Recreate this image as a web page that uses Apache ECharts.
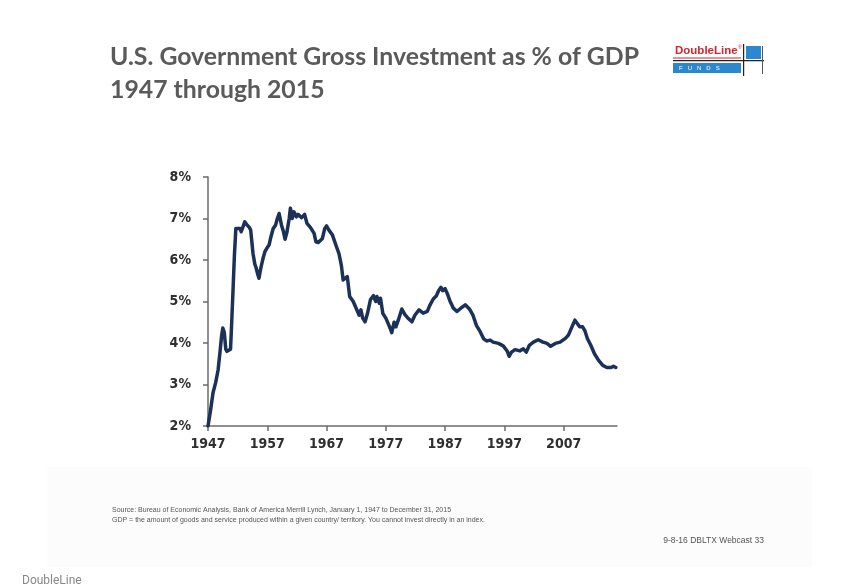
<!DOCTYPE html>
<html>
<head>
<meta charset="utf-8">
<script src="https://cdn.jsdelivr.net/npm/echarts@6/dist/echarts.min.js"></script>
<style>
html,body{margin:0;padding:0;background:#fff;}
#chart{width:850px;height:584px;}
</style>
</head>
<body>
<div id="chart"></div>
<script>
// ---- data ----
const years = [
1947.0,1947.4,1947.85,1948.3,1948.7,1949.0,1949.3,1949.5,1949.75,1950.0,1950.2,1950.5,1950.8,
1951.0,1951.2,1951.45,1951.7,1952.0,1952.4,1952.6,1952.9,1953.2,1953.5,1953.7,1954.0,1954.2,
1954.6,1954.9,1955.1,1955.4,1955.6,1955.9,1956.3,1956.6,1957.0,1957.3,1957.6,1958.0,1958.4,
1958.7,1959.0,1959.4,1959.7,1960.0,1960.3,1960.7,1960.9,1961.2,1961.5,1961.9,1962.2,1962.4,
1962.8,1963.1,1963.3,1963.7,1964.3,1964.9,1965.2,1965.6,1965.9,1966.3,1966.7,1967.0,1967.4,
1968.0,1968.6,1969.1,1969.5,1969.8,1970.1,1970.5,1970.9,1971.5,1972.1,1972.5,1972.8,1973.1,
1973.5,1973.9,1974.4,1974.9,1975.3,1975.5,1975.9,1976.1,1976.5,1977.0,1977.6,1978.0,1978.4,
1978.7,1979.1,1979.7,1980.2,1980.8,1981.4,1981.9,1982.6,1983.3,1984.0,1984.4,1985.0,1985.5,
1985.9,1986.3,1986.6,1987.0,1987.4,1987.8,1988.4,1989.0,1989.5,1990.4,1991.1,1991.7,1992.3,
1992.9,1993.5,1994.0,1994.6,1995.1,1996.0,1996.8,1997.5,1997.8,1998.2,1998.8,1999.6,2000.2,
2000.7,2001.2,2001.9,2002.7,2003.5,2004.2,2004.8,2005.6,2006.4,2007.3,2007.8,2008.4,2008.9,
2009.2,2009.7,2010.2,2010.6,2011.0,2011.6,2012.2,2012.9,2013.6,2014.3,2015.0,2015.4,2015.8
];
const investPct = [
2.00,2.35,2.80,3.05,3.35,3.75,4.18,4.36,4.25,3.85,3.80,3.82,3.85,
4.50,5.20,6.10,6.76,6.74,6.76,6.68,6.80,6.92,6.86,6.82,6.78,6.72,
6.15,5.90,5.82,5.65,5.56,5.80,6.05,6.20,6.30,6.36,6.55,6.76,6.84,
7.00,7.12,6.84,6.70,6.50,6.66,7.00,7.25,7.00,7.16,7.04,7.10,7.12,
7.02,7.04,7.10,6.88,6.78,6.64,6.44,6.42,6.44,6.52,6.76,6.82,6.72,
6.60,6.35,6.15,5.87,5.52,5.54,5.60,5.12,5.00,4.80,4.67,4.80,4.60,
4.51,4.71,5.04,5.14,5.00,5.12,4.96,5.08,4.71,4.60,4.40,4.25,4.50,
4.39,4.55,4.82,4.69,4.59,4.51,4.67,4.80,4.72,4.76,4.90,5.06,5.13,
5.26,5.34,5.26,5.31,5.18,5.02,4.84,4.76,4.82,4.92,4.82,4.67,4.42,
4.28,4.10,4.05,4.07,4.02,3.99,3.93,3.80,3.68,3.78,3.84,3.81,3.86,
3.78,3.94,4.02,4.08,4.02,3.99,3.92,3.99,4.02,4.11,4.19,4.39,4.55,
4.51,4.39,4.39,4.29,4.11,3.94,3.74,3.58,3.46,3.41,3.41,3.44,3.41
];
const xTickYears = [1947,1957,1967,1977,1987,1997,2007];
const yTicks = [2,3,4,5,6,7,8];

const titleLine1 = 'U.S. Government Gross Investment as % of GDP';
const titleLine2 = '1947 through 2015';
const sourceLine1 = 'Source: Bureau of Economic Analysis, Bank of America Merrill Lynch, January 1, 1947 to December 31, 2015';
const sourceLine2 = 'GDP = the amount of goods and service produced within a given country/ territory. You cannot invest directly in an index.';
const footerRight = '9-8-16 DBLTX Webcast 33';
const footerLeft = 'DoubleLine';

const seriesData = years.map((y, i) => [y, investPct[i]]);

const chart = echarts.init(document.getElementById('chart'), null, {renderer: 'canvas'});
const axisFont = "'DejaVu Sans Condensed', 'Liberation Sans Narrow', 'Arial Narrow', 'Liberation Sans', sans-serif";
const titleFont = "Lato, 'Open Sans', sans-serif";

chart.setOption({
  backgroundColor: '#ffffff',
  animation: false,
  grid: {left: 208, right: 233, top: 177, bottom: 158, containLabel: false},
  xAxis: {
    type: 'value',
    min: 1947, max: 2016,
    splitLine: {show: false},
    axisLine: {show: true, lineStyle: {color: '#6b6b6b', width: 1.5}},
    axisTick: {show: true, length: 5, lineStyle: {color: '#6b6b6b', width: 1.5}, customValues: xTickYears},
    axisLabel: {
      customValues: xTickYears,
      color: '#2f2f2f', fontFamily: axisFont, fontWeight: 'bold', fontSize: 14, margin: 11,
      formatter: v => String(Math.round(v))
    }
  },
  yAxis: {
    type: 'value',
    min: 2, max: 8, interval: 1,
    splitLine: {show: false},
    axisLine: {show: true, lineStyle: {color: '#6b6b6b', width: 1.5}},
    axisTick: {show: true, length: 5, lineStyle: {color: '#6b6b6b', width: 1.5}},
    axisLabel: {
      color: '#2f2f2f', fontFamily: axisFont, fontWeight: 'bold', fontSize: 14, margin: 17,
      formatter: v => v + '%'
    }
  },
  series: [{
    type: 'line',
    data: seriesData,
    showSymbol: false,
    smooth: false,
    lineStyle: {color: '#1b3157', width: 3.5, join: 'round', cap: 'round'},
    z: 5
  }],
  graphic: [
    // footer panel
    {type: 'rect', silent: true, z: -10, shape: {x: 47, y: 467, width: 765, height: 100}, style: {fill: '#fcfcfc'}},
    // title
    {type: 'text', left: 110, top: 45, style: {text: titleLine1, font: "bold 24.8px " + titleFont, fill: '#5a5a5a'}},
    {type: 'text', left: 110, top: 78, style: {text: titleLine2, font: "bold 24.8px " + titleFont, fill: '#5a5a5a'}},
    // logo
    {type: 'group', left: 673, top: 44, children: [
      {type: 'text', x: 2, y: 1, style: {text: 'DoubleLine', font: "bold 11.5px 'Liberation Sans', Arial, sans-serif", fill: '#d0262d'}},
      {type: 'text', x: 65, y: 1, style: {text: '®', font: "5px 'Liberation Sans', Arial, sans-serif", fill: '#d0262d'}},
      {type: 'rect', shape: {x: 0, y: 13.5, width: 68, height: 1}, style: {fill: '#d0262d'}},
      {type: 'rect', shape: {x: 0, y: 19, width: 68, height: 10}, style: {fill: '#2b88cf'}},
      {type: 'text', x: 6, y: 21, style: {text: 'F   U   N   D   S', font: "6px 'Liberation Sans', Arial, sans-serif", fill: '#ffffff'}},
      {type: 'rect', shape: {x: 73, y: 2, width: 15, height: 13}, style: {fill: '#2b88cf'}},
      {type: 'rect', shape: {x: 70, y: 0, width: 1.2, height: 32}, style: {fill: '#222'}},
      {type: 'rect', shape: {x: 0, y: 16, width: 91, height: 1.2}, style: {fill: '#222'}},
      {type: 'rect', shape: {x: 89, y: 2, width: 1, height: 28}, style: {fill: '#555'}}
    ]},
    // source notes
    {type: 'text', left: 112, top: 507, style: {text: sourceLine1, font: "7px 'Liberation Sans Narrow', 'Liberation Sans', Arial, sans-serif", fill: '#555'}},
    {type: 'text', left: 112, top: 517, style: {text: sourceLine2, font: "7px 'Liberation Sans Narrow', 'Liberation Sans', Arial, sans-serif", fill: '#555'}},
    {type: 'text', right: 86, top: 536, style: {text: footerRight, font: "8.5px 'Liberation Sans Narrow', 'Liberation Sans', Arial, sans-serif", fill: '#555'}},
    {type: 'text', left: 22, top: 575, style: {text: footerLeft, font: "12px Roboto, 'Liberation Sans', sans-serif", fill: '#888'}}
  ]
});
</script>
</body>
</html>
